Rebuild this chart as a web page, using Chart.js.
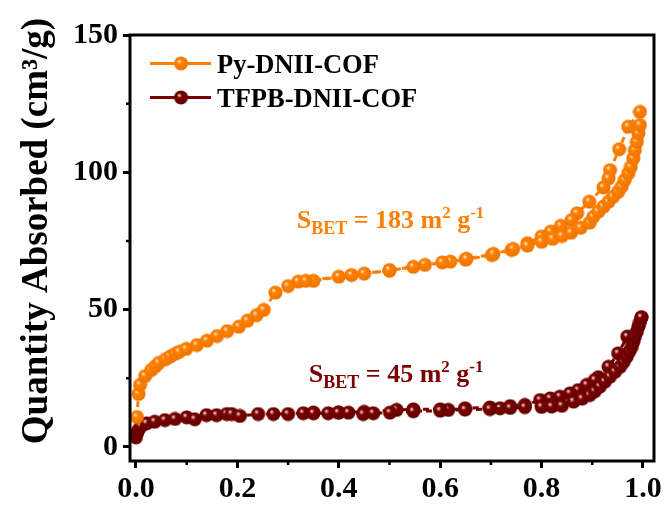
<!DOCTYPE html>
<html>
<head>
<meta charset="utf-8">
<script src="https://cdn.jsdelivr.net/npm/chart.js@4.4.1/dist/chart.umd.min.js"></script>
<style>
  body { margin: 0; background: #fff; }
  canvas { display: block; }
</style>
</head>
<body>
<canvas id="bet" width="665" height="508"></canvas>
<script>
// Py-DNII-COF, adsorption branch
const pyAdsP = [0.002, 0.005, 0.008, 0.018, 0.030, 0.038, 0.045, 0.059, 0.068, 0.077, 0.085, 0.099,
  0.12, 0.14, 0.16, 0.18, 0.203, 0.22, 0.238, 0.252, 0.275, 0.30, 0.335, 0.40, 0.45, 0.50, 0.547,
  0.604, 0.652, 0.705, 0.744, 0.772, 0.80, 0.822, 0.84, 0.858, 0.877, 0.895, 0.902, 0.912, 0.922,
  0.932, 0.941, 0.951, 0.958, 0.964, 0.971, 0.976, 0.981, 0.984, 0.988, 0.991, 0.994];
const pyAdsV = [10.9, 19.3, 22.6, 25.8, 28.0, 29.3, 30.6, 32.0, 33.0, 33.9, 34.6, 35.7,
  37.1, 38.7, 40.4, 42.2, 43.8, 46.0, 48.0, 49.9, 56.2, 58.6, 60.5, 62.0, 63.1, 64.4, 65.6,
  67.2, 68.5, 70.3, 72.1, 73.3, 74.7, 75.8, 76.8, 78.0, 79.8, 81.7, 83.8, 85.7, 87.5,
  89.3, 91.1, 92.9, 94.8, 97.2, 99.6, 102.0, 105.1, 108.1, 111.1, 114.2, 117.2];
// Py-DNII-COF, desorption branch
const pyDesP = [0.994, 0.971, 0.953, 0.935, 0.932, 0.922, 0.894, 0.870, 0.859, 0.838, 0.818, 0.80,
  0.772, 0.741, 0.702, 0.65, 0.62, 0.57, 0.50, 0.425, 0.35, 0.32];
const pyDesV = [122.0, 116.6, 108.4, 100.8, 97.8, 94.5, 89.3, 85.1, 82.6, 80.5, 78.4, 76.6,
  74.2, 71.7, 69.9, 68.2, 67.5, 66.3, 64.2, 62.6, 60.5, 60.2];

// TFPB-DNII-COF, adsorption branch
const tfAdsP = [0.0, 0.002, 0.005, 0.01, 0.021, 0.037, 0.057, 0.077, 0.10, 0.116, 0.139, 0.159,
  0.179, 0.189, 0.205, 0.241, 0.271, 0.30, 0.33, 0.35, 0.379, 0.399, 0.419, 0.448, 0.468, 0.501,
  0.547, 0.60, 0.649, 0.698, 0.738, 0.767, 0.80, 0.82, 0.84, 0.863, 0.88, 0.895, 0.905, 0.915,
  0.925, 0.935, 0.945, 0.955, 0.962, 0.968, 0.973, 0.978, 0.981, 0.984, 0.988, 0.991, 0.994, 0.997];
const tfAdsV = [3.5, 5.0, 6.2, 7.6, 8.6, 9.2, 9.8, 10.2, 10.8, 10.1, 11.6, 11.6,
  12.0, 12.0, 11.3, 12.0, 12.0, 12.0, 12.3, 12.3, 12.3, 12.5, 12.5, 12.0, 12.3, 12.5,
  13.0, 13.2, 13.6, 13.8, 14.2, 14.5, 14.6, 14.7, 15.0, 16.5, 17.6, 18.9, 20.3, 22.0,
  23.8, 25.6, 27.4, 29.2, 31.0, 32.9, 34.7, 36.5, 38.3, 40.2, 42.0, 43.8, 45.5, 47.2];
// TFPB-DNII-COF, desorption branch
const tfDesP = [0.997, 0.969, 0.951, 0.932, 0.912, 0.905, 0.889, 0.872, 0.856, 0.836, 0.817, 0.797,
  0.767, 0.738, 0.718, 0.698, 0.649, 0.616, 0.60, 0.547, 0.514, 0.45, 0.40, 0.35];
const tfDesV = [47.2, 40.2, 34.1, 29.2, 25.4, 24.4, 22.6, 20.7, 19.5, 18.3, 17.7, 17.1,
  15.3, 14.9, 14.1, 14.4, 14.1, 13.5, 13.7, 13.7, 13.5, 12.8, 12.6, 12.5];

const seriesNames = ["Py-DNII-COF", "TFPB-DNII-COF"];
const yTitle = "Quantity Absorbed (cm³/g)";
const xTicks = [0, 0.2, 0.4, 0.6, 0.8, 1.0];
const xMinor = [0.1, 0.3, 0.5, 0.7, 0.9];
const yTicks = [0, 50, 100, 150];
const yMinor = [25, 75, 125];

const ORANGE = "#ff8000";
const DARKRED = "#7a0000";
const FONT = "'Liberation Serif', 'Times New Roman', serif";

function makeBall(base, light, edge) {
  const c = document.createElement("canvas");
  c.width = 15;
  c.height = 15;
  const g = c.getContext("2d");
  const grd = g.createRadialGradient(5.6, 5.2, 0, 6.8, 6.6, 8);
  grd.addColorStop(0, "#ffffff");
  grd.addColorStop(0.13, light);
  grd.addColorStop(0.32, base);
  grd.addColorStop(1, edge);
  g.fillStyle = grd;
  g.beginPath();
  g.arc(7.5, 7.5, 7, 0, Math.PI * 2);
  g.fill();
  return c;
}

const orangeBall = makeBall(ORANGE, "#ffbf80", "#ee7400");
const redBall = makeBall(DARKRED, "#c88c8c", "#620000");

const toPoints = (xs, ys) => xs.map((x, i) => ({ x, y: ys[i] }));

function branch(xs, ys, color, ball) {
  return {
    data: toPoints(xs, ys),
    showLine: true,
    borderColor: color,
    borderWidth: 3,
    borderDash: [6, 4],
    pointStyle: ball,
    pointRadius: 7,
  };
}

function drawRich(ctx, x, y, parts, color) {
  ctx.fillStyle = color;
  ctx.textBaseline = "alphabetic";
  ctx.textAlign = "left";
  parts.forEach(([t, size, dy]) => {
    ctx.font = `bold ${size}px ${FONT}`;
    ctx.fillText(t, x, y + dy);
    x += ctx.measureText(t).width;
  });
}

const decorPlugin = {
  id: "decor",
  afterDraw(chart) {
    const { ctx, chartArea: a, scales } = chart;
    ctx.save();
    // frame
    ctx.strokeStyle = "#000";
    ctx.lineWidth = 3;
    ctx.strokeRect(a.left, a.top, a.right - a.left, a.bottom - a.top);
    // minor ticks
    ctx.lineWidth = 2.5;
    ctx.beginPath();
    xMinor.forEach((v) => {
      const px = scales.x.getPixelForValue(v);
      ctx.moveTo(px, a.bottom);
      ctx.lineTo(px, a.bottom + 4);
    });
    yMinor.forEach((v) => {
      const py = scales.y.getPixelForValue(v);
      ctx.moveTo(a.left, py);
      ctx.lineTo(a.left - 4, py);
    });
    ctx.stroke();

    // y axis title
    ctx.save();
    ctx.translate(37, 231);
    ctx.rotate(-Math.PI / 2);
    ctx.fillStyle = "#000";
    ctx.font = `bold 37px ${FONT}`;
    ctx.textAlign = "center";
    ctx.textBaseline = "middle";
    ctx.fillText(yTitle, 0, 0);
    ctx.restore();

    // legend
    const items = [
      [seriesNames[0], ORANGE, orangeBall, 63.5],
      [seriesNames[1], DARKRED, redBall, 97.5],
    ];
    items.forEach(([name, color, ball, y]) => {
      ctx.strokeStyle = color;
      ctx.lineWidth = 3;
      ctx.beginPath();
      ctx.moveTo(150, y);
      ctx.lineTo(211, y);
      ctx.stroke();
      ctx.drawImage(ball, 181 - 7.5, y - 7.5);
      ctx.fillStyle = "#000";
      ctx.font = `bold 26.5px ${FONT}`;
      ctx.textBaseline = "alphabetic";
      ctx.textAlign = "left";
      ctx.fillText(name, 217, y + 9.5);
    });

    // BET surface area labels
    drawRich(ctx, scales.x.getPixelForValue(0.317), scales.y.getPixelForValue(79.9), [
      ["S", 26, 0], ["BET", 18, 6], [" = 183 m", 26, 0], ["2", 17, -10], [" g", 26, 0], ["-1", 17, -10],
    ], ORANGE);
    drawRich(ctx, scales.x.getPixelForValue(0.341), scales.y.getPixelForValue(23.5), [
      ["S", 26, 0], ["BET", 18, 6], [" = 45 m", 26, 0], ["2", 17, -10], [" g", 26, 0], ["-1", 17, -10],
    ], DARKRED);
    ctx.restore();
  },
};

const tickFont = { family: FONT, size: 30, weight: "bold" };

new Chart(document.getElementById("bet").getContext("2d"), {
  type: "scatter",
  data: {
    datasets: [
      branch(pyAdsP, pyAdsV, ORANGE, orangeBall),
      branch(pyDesP, pyDesV, ORANGE, orangeBall),
      branch(tfAdsP, tfAdsV, DARKRED, redBall),
      branch(tfDesP, tfDesV, DARKRED, redBall),
    ],
  },
  options: {
    responsive: false,
    animation: false,
    layout: { padding: { top: 35, right: 11, left: 0, bottom: 0 } },
    plugins: { legend: { display: false }, tooltip: { enabled: false } },
    scales: {
      x: {
        type: "linear",
        min: -0.0118,
        max: 1.0217,
        afterBuildTicks: (s) => { s.ticks = xTicks.map((v) => ({ value: v })); },
        afterFit: (s) => { s.height = 47; },
        border: { display: false },
        grid: { drawOnChartArea: false, tickLength: 7, tickWidth: 3, tickColor: "#000" },
        ticks: { color: "#000", font: tickFont, padding: 3, maxRotation: 0,
          callback: (v) => v.toFixed(1) },
      },
      y: {
        type: "linear",
        min: -5.1,
        max: 150,
        afterBuildTicks: (s) => { s.ticks = yTicks.map((v) => ({ value: v })); },
        afterFit: (s) => { s.width = 130; },
        border: { display: false },
        grid: { drawOnChartArea: false, tickLength: 7, tickWidth: 3, tickColor: "#000" },
        ticks: { color: "#000", font: tickFont, padding: 5 },
      },
    },
  },
  plugins: [decorPlugin],
});
</script>
</body>
</html>
